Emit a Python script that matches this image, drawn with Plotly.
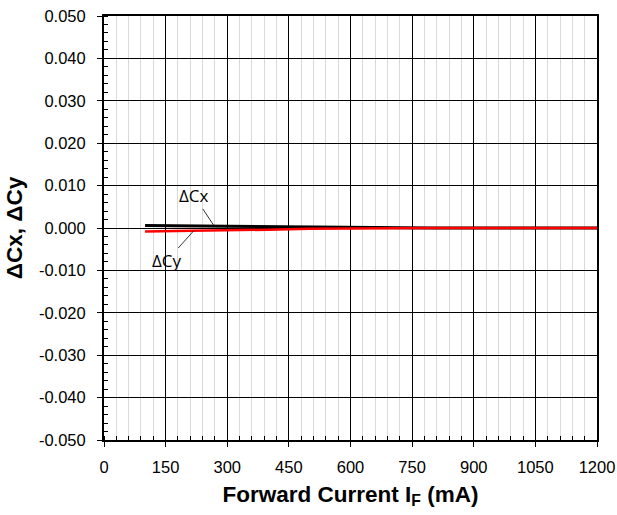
import plotly.graph_objects as go

current_ma = [100, 200, 300, 400, 500, 600, 700, 800, 900, 1000, 1100, 1200]
delta_cx = [0.0006, 0.0005, 0.0004, 0.0003, 0.0002, 0.0002, 0.0001, 0.0, 0.0, 0.0, 0.0, 0.0]
delta_cy = [-0.0008, -0.0007, -0.0005, -0.0004, -0.0002, -0.0001, 0.0, 0.0, 0.0, 0.0, 0.0, 0.0]

x_ticks = [0, 150, 300, 450, 600, 750, 900, 1050, 1200]
y_ticks = [-0.05, -0.04, -0.03, -0.02, -0.01, 0.0, 0.01, 0.02, 0.03, 0.04, 0.05]
y_tick_text = ["-0.050", "-0.040", "-0.030", "-0.020", "-0.010", "0.000",
               "0.010", "0.020", "0.030", "0.040", "0.050"]

FONT = "Liberation Sans"

fig = go.Figure()
fig.add_trace(go.Scatter(x=current_ma, y=delta_cx, mode="lines", name="ΔCx",
                         line=dict(color="black", width=3)))
fig.add_trace(go.Scatter(x=current_ma, y=delta_cy, mode="lines", name="ΔCy",
                         line=dict(color="#ff0000", width=2.5)))

fig.add_annotation(x=268, y=0.0005, text="ΔCx", showarrow=True, arrowhead=0,
                   arrowwidth=0.8, arrowcolor="black", ax=-20, ay=-30,
                   font=dict(size=17, color="black", family="Open Sans"))
fig.add_annotation(x=218, y=-0.0007, text="ΔCy", showarrow=True, arrowhead=0,
                   arrowwidth=0.8, arrowcolor="black", ax=-27, ay=30,
                   font=dict(size=17, color="black", family="Open Sans"))

fig.update_layout(
    width=617, height=515,
    margin=dict(l=104, r=20, t=16, b=75),
    plot_bgcolor="white", paper_bgcolor="white",
    showlegend=False,
    font=dict(family=FONT, size=16.5, color="black"),
)
fig.update_xaxes(
    range=[0, 1200], tickvals=x_ticks, ticktext=[str(v) for v in x_ticks],
    automargin=False,
    showgrid=True, gridcolor="black", gridwidth=1,
    showline=True, linecolor="black", linewidth=2, mirror=True,
    ticks="outside", ticklen=5, tickcolor="black", tickwidth=1,
    ticklabelstandoff=6,
    minor=dict(dtick=30, showgrid=True, gridcolor="#d9d9d9", gridwidth=1,
               ticks="inside", ticklen=4, tickcolor="black"),
    zeroline=False,
    title=dict(text="<b>Forward Current I<sub>F</sub> (mA)</b>",
               font=dict(size=22.5, family=FONT), standoff=11),
    tickfont=dict(size=16.5, family=FONT),
)
fig.update_yaxes(
    range=[-0.05, 0.05], tickvals=y_ticks, ticktext=y_tick_text,
    automargin=False,
    showgrid=True, gridcolor="black", gridwidth=1,
    showline=True, linecolor="black", linewidth=2, mirror=True,
    ticks="outside", ticklen=5, tickcolor="black", tickwidth=1,
    ticklabelstandoff=8,
    minor=dict(dtick=0.002, showgrid=False, ticks="inside", ticklen=4, tickcolor="black"),
    zeroline=False,
    title=dict(text="<b>ΔCx, ΔCy</b>",
               font=dict(size=22.5, family=FONT), standoff=10),
    tickfont=dict(size=16.5, family=FONT),
)

fig.write_html("out.html")
